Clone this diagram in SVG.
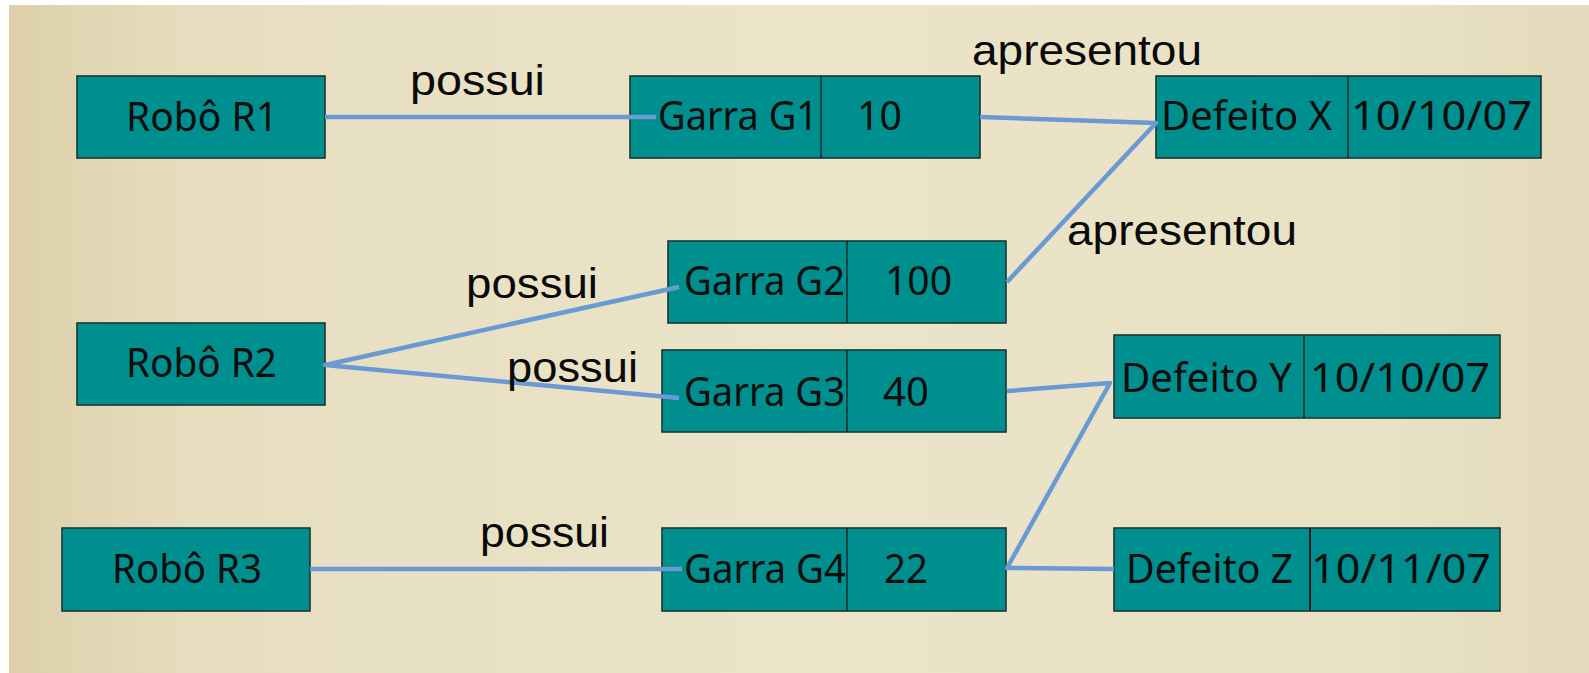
<svg xmlns="http://www.w3.org/2000/svg" width="1589" height="673" viewBox="0 0 1589 673">
<defs>
<linearGradient id="bg" x1="0" y1="0" x2="1" y2="0">
<stop offset="0" stop-color="#ddd0aa"/>
<stop offset="0.12" stop-color="#e7dec0"/>
<stop offset="0.5" stop-color="#ebe4c8"/>
<stop offset="0.88" stop-color="#e9e1c4"/>
<stop offset="1" stop-color="#e3dabb"/>
</linearGradient>
<style>
.box{fill:#008f8f;stroke:#1b3535;stroke-width:1.6}
.div{stroke:#102020;stroke-width:1.3}
.t{font-family:"Noto Sans","Open Sans",sans-serif;font-size:40px;fill:#0d0d0d}
.lbl{font-family:"Liberation Sans",Arial,sans-serif;font-size:43px;fill:#0a0a0a}
.c{fill:none;stroke:#6a9ad3;stroke-width:4.5;stroke-linejoin:round;stroke-linecap:butt}
</style>
</defs>
<rect x="0" y="0" width="1589" height="673" fill="#ffffff"/>
<rect x="9" y="5" width="1580" height="668" fill="url(#bg)"/>

<g id="robo-r1"><rect class="box" x="77" y="76" width="248" height="82"/><text class="t" x="126" y="131" textLength="152" lengthAdjust="spacingAndGlyphs">Robô R1</text></g>
<g id="robo-r2"><rect class="box" x="77" y="323" width="248" height="82"/><text class="t" x="126" y="377" textLength="151" lengthAdjust="spacingAndGlyphs">Robô R2</text></g>
<g id="robo-r3"><rect class="box" x="62" y="528" width="248" height="83"/><text class="t" x="112" y="583" textLength="150" lengthAdjust="spacingAndGlyphs">Robô R3</text></g>

<g id="garra-g1"><rect class="box" x="630" y="76" width="350" height="82"/><line class="div" x1="821" y1="76" x2="821" y2="158"/><text class="t" x="658" y="130" textLength="160" lengthAdjust="spacingAndGlyphs">Garra G1</text><text class="t" x="857" y="130" textLength="45" lengthAdjust="spacingAndGlyphs">10</text></g>
<g id="garra-g2"><rect class="box" x="668" y="241" width="338" height="82"/><line class="div" x1="847" y1="241" x2="847" y2="323"/><text class="t" x="684" y="295" textLength="161" lengthAdjust="spacingAndGlyphs">Garra G2</text><text class="t" x="885" y="295" textLength="67" lengthAdjust="spacingAndGlyphs">100</text></g>
<g id="garra-g3"><rect class="box" x="662" y="350" width="344" height="82"/><line class="div" x1="847" y1="350" x2="847" y2="432"/><text class="t" x="684" y="406" textLength="161" lengthAdjust="spacingAndGlyphs">Garra G3</text><text class="t" x="883" y="406" textLength="46" lengthAdjust="spacingAndGlyphs">40</text></g>
<g id="garra-g4"><rect class="box" x="662" y="528" width="344" height="83"/><line class="div" x1="847" y1="528" x2="847" y2="611"/><text class="t" x="684" y="583" textLength="162" lengthAdjust="spacingAndGlyphs">Garra G4</text><text class="t" x="884" y="583" textLength="44" lengthAdjust="spacingAndGlyphs">22</text></g>

<g id="defeito-x"><rect class="box" x="1156" y="76" width="385" height="82"/><line class="div" x1="1348" y1="76" x2="1348" y2="158"/><text class="t" x="1161" y="130" textLength="171" lengthAdjust="spacingAndGlyphs">Defeito X</text><text class="t" x="1351" y="130" textLength="181" lengthAdjust="spacingAndGlyphs">10/10/07</text></g>
<g id="defeito-y"><rect class="box" x="1114" y="335" width="386" height="83"/><line class="div" x1="1304" y1="335" x2="1304" y2="418"/><text class="t" x="1121" y="392" textLength="171" lengthAdjust="spacingAndGlyphs">Defeito Y</text><text class="t" x="1310" y="392" textLength="180" lengthAdjust="spacingAndGlyphs">10/10/07</text></g>
<g id="defeito-z"><rect class="box" x="1114" y="528" width="386" height="83"/><line class="div" x1="1310" y1="528" x2="1310" y2="611" style="stroke-width:2"/><text class="t" x="1126" y="583" textLength="167" lengthAdjust="spacingAndGlyphs">Defeito Z</text><text class="t" x="1311" y="583" textLength="180" lengthAdjust="spacingAndGlyphs">10/11/07</text></g>

<g id="connectors">
<polyline class="c" points="325,117 656,117"/>
<polyline class="c" points="980,117 1156,123 1007,282"/>
<polyline class="c" points="679,287 325,365 679,398"/>
<polyline class="c" points="1007,391 1110,383 1007,568 1114,569"/>
<polyline class="c" points="310,569 682,569"/>
<text class="lbl" x="410" y="95" textLength="135" lengthAdjust="spacingAndGlyphs">possui</text>
<text class="lbl" x="466" y="298" textLength="132" lengthAdjust="spacingAndGlyphs">possui</text>
<text class="lbl" x="507" y="382" textLength="131" lengthAdjust="spacingAndGlyphs">possui</text>
<text class="lbl" x="480" y="547" textLength="129" lengthAdjust="spacingAndGlyphs">possui</text>
<text class="lbl" x="972" y="65" textLength="230" lengthAdjust="spacingAndGlyphs">apresentou</text>
<text class="lbl" x="1067" y="245" textLength="230" lengthAdjust="spacingAndGlyphs">apresentou</text>
</g>
</svg>
